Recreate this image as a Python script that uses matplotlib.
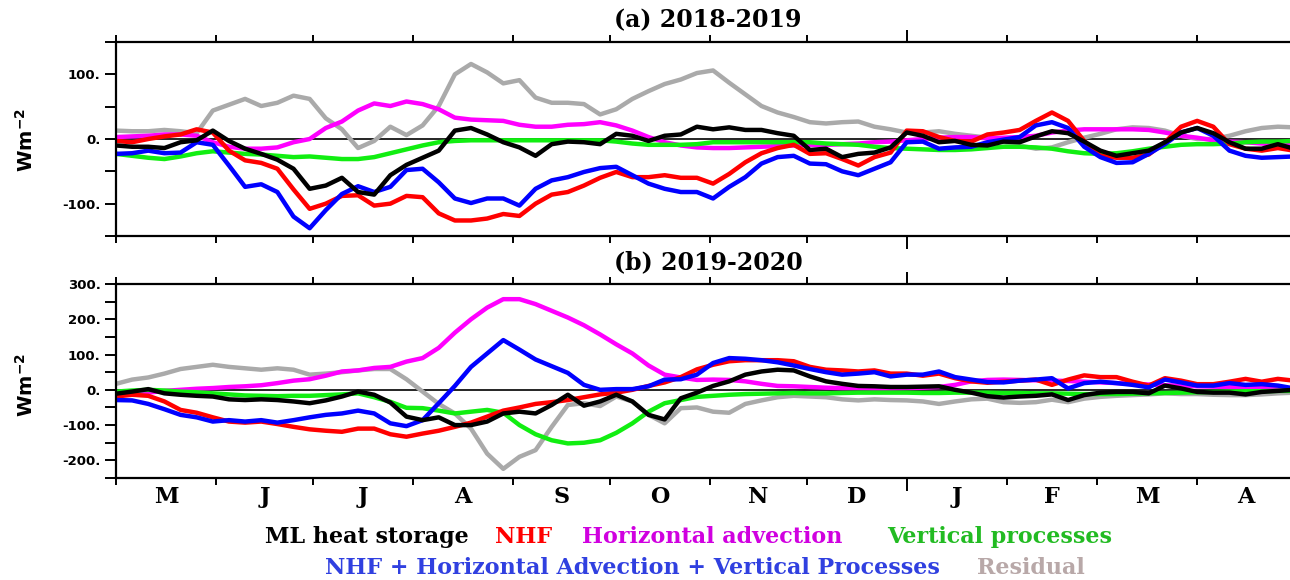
import numpy as np
import matplotlib
matplotlib.use('Agg')
import matplotlib.pyplot as plt
from matplotlib.ticker import FixedLocator, FuncFormatter, MultipleLocator

# day of year counted from 1 May, sampled every 5 days
days = np.arange(0, 366, 5)

# ── (a) 2018-2019, W m-2 ───────────────────────────────────
storage_a = [-10,-12,-12,-14,-5,-2,13,-3,-15,-23,-32,-46,-77,-72,-60,-82,-86,-56,-40,
             -29,-18,13,17,7,-5,-13,-26,-8,-4,-5,-8,8,5,-3,5,7,19,
             15,18,14,14,9,5,-17,-15,-28,-23,-21,-13,10,5,-5,-3,-9,-10,
             -4,-5,4,12,9,-4,-18,-26,-22,-18,-5,10,17,9,-5,-15,-15,-8,-15]
nhf_a = [-3,-5,0,4,7,15,10,-18,-33,-37,-46,-78,-108,-100,-88,-87,-103,-100,-88,
         -90,-115,-126,-126,-123,-116,-119,-100,-86,-82,-72,-60,-51,-59,-59,-56,-60,-60,
         -69,-54,-36,-22,-14,-9,-23,-22,-31,-41,-28,-21,13,12,3,-3,-4,7,
         10,14,28,41,28,-3,-26,-29,-29,-24,-5,19,28,19,-8,-15,-18,-14,-18]
hadv_a = [3,4,5,7,7,5,-5,-12,-15,-15,-13,-5,0,17,27,44,55,51,58,
          54,46,33,30,29,28,22,19,19,22,23,26,21,13,3,-5,-10,-13,
          -14,-14,-13,-12,-11,-10,-9,-9,-8,-7,-5,-4,-2,0,2,3,3,1,
          2,3,5,10,13,15,15,15,15,14,10,5,2,-2,-4,-5,-7,-8,-8]
vert_a = [-23,-26,-29,-31,-27,-22,-19,-21,-23,-24,-26,-28,-27,-29,-31,-31,-28,-22,-16,
          -10,-5,-3,-2,-2,-2,-2,-2,-2,-2,-2,-2,-4,-7,-9,-9,-9,-8,
          -5,-5,-5,-5,-5,-5,-5,-7,-8,-9,-12,-14,-15,-16,-17,-17,-16,-14,
          -12,-12,-13,-15,-19,-22,-23,-22,-19,-15,-12,-9,-8,-8,-7,-5,-4,-4,-3]
total_a = [-23,-22,-18,-22,-21,-5,-9,-41,-74,-70,-82,-120,-138,-110,-85,-73,-82,-74,-48,
           -46,-67,-92,-99,-92,-92,-103,-77,-64,-59,-51,-45,-43,-56,-69,-77,-82,-82,
           -92,-74,-59,-38,-28,-26,-38,-39,-50,-56,-46,-36,-5,-4,-15,-13,-12,-5,
           -1,3,21,26,17,-12,-28,-37,-36,-23,-8,10,17,5,-18,-26,-29,-28,-27]
resid_a = [13,12,12,14,12,9,44,53,62,51,56,67,62,32,15,-14,-3,19,6,
           21,51,100,116,103,86,91,64,56,56,54,38,46,62,74,85,92,102,
           106,87,69,51,41,34,26,24,26,27,19,15,10,10,12,8,5,2,
           -5,-10,-15,-13,-5,2,8,15,18,17,13,5,0,0,5,12,17,19,18]

# ── (b) 2019-2020, W m-2 ───────────────────────────────────
storage_b = [-11,-5,2,-10,-14,-17,-19,-27,-29,-27,-29,-33,-38,-30,-19,-5,-14,-36,-76,
             -86,-78,-100,-100,-90,-67,-62,-67,-43,-14,-45,-33,-14,-33,-71,-84,-24,-8,
             11,24,43,52,57,55,38,24,17,11,10,8,8,9,10,0,-8,-18,
             -22,-19,-17,-13,-29,-15,-8,-6,-6,-10,12,4,-6,-8,-8,-13,-6,-3,0]
nhf_b = [-19,-14,-17,-33,-57,-65,-78,-90,-93,-90,-97,-105,-112,-116,-119,-110,-110,-126,-133,
         -124,-116,-105,-93,-76,-59,-50,-40,-35,-29,-21,-13,-8,0,11,21,36,58,
         71,81,84,84,84,81,65,57,55,52,55,46,46,40,46,33,24,20,
         23,26,29,14,29,41,36,36,23,12,33,26,16,16,23,31,23,31,26]
hadv_b = [-14,-14,-8,-3,0,3,5,8,10,13,19,26,30,40,52,55,62,65,80,
          90,119,162,200,233,257,257,243,224,205,183,157,129,103,69,43,35,28,
          29,28,24,17,11,10,8,6,5,5,4,4,5,6,8,14,24,28,
          29,28,27,26,25,23,21,19,17,15,13,12,10,9,8,7,6,5,4]
vert_b = [-5,-2,0,-2,-5,-7,-10,-13,-16,-17,-18,-17,-17,-15,-13,-10,-21,-34,-51,
          -52,-59,-67,-62,-57,-65,-100,-126,-143,-152,-150,-143,-122,-95,-62,-38,-29,-20,
          -17,-14,-12,-11,-10,-9,-10,-10,-9,-8,-8,-8,-8,-9,-9,-8,-8,-8,
          -9,-9,-10,-10,-11,-12,-12,-12,-11,-10,-9,-8,-7,-6,-5,-4,-4,-3,-3]
total_b = [-29,-30,-40,-55,-71,-78,-90,-86,-90,-86,-93,-86,-78,-71,-67,-59,-67,-95,-103,
           -86,-38,11,65,103,141,114,86,67,48,14,0,2,2,10,29,30,43,
           76,90,88,84,78,69,59,50,43,46,50,38,43,43,52,36,29,22,
           21,26,29,33,4,19,23,19,14,7,29,21,12,12,19,14,16,12,4]
resid_b = [17,29,35,46,59,65,71,65,61,57,61,57,43,46,50,55,59,59,30,
           -5,-40,-67,-110,-181,-224,-190,-171,-105,-43,-38,-46,-19,-33,-71,-95,-52,-50,
           -62,-65,-40,-30,-21,-17,-19,-21,-27,-30,-27,-29,-30,-33,-40,-33,-27,-25,
           -35,-37,-35,-28,-35,-25,-20,-17,-15,-13,-10,-12,-12,-14,-15,-15,-13,-10,-8]

month_starts = [0, 31, 61, 92, 123, 153, 184, 214, 245, 276, 304, 335, 365]
month_labels = ['M', 'J', 'J', 'A', 'S', 'O', 'N', 'D', 'J', 'F', 'M', 'A']
year_break = 245

C_GRAY, C_MAG, C_GRN = '#AAAAAA', '#FF00FF', '#11EE11'
C_RED, C_BLU, C_BLK = '#FF0000', '#0000FF', '#000000'

W, H = 1290, 580
fig = plt.figure(figsize=(W / 100, H / 100), dpi=100)
fig.patch.set_facecolor('white')

def panel(rect, series, ylim, yticks, title, title_y):
    ax = fig.add_axes(rect)
    ax.axhline(0, color='black', lw=1.2, zorder=1)
    for vals, col in zip(series, [C_GRAY, C_MAG, C_GRN, C_RED, C_BLU, C_BLK]):
        ax.plot(days, vals, color=col, lw=3.2, solid_joinstyle='round', zorder=2)
    ax.set_xlim(0, 365)
    ax.set_ylim(*ylim)
    ax.yaxis.set_major_locator(FixedLocator(yticks))
    ax.yaxis.set_minor_locator(MultipleLocator(50))
    ax.yaxis.set_major_formatter(FuncFormatter(lambda v, p: f'{int(v)}.'))
    ax.xaxis.set_major_locator(FixedLocator([m for m in month_starts if m != year_break]))
    ax.xaxis.set_minor_locator(FixedLocator([year_break]))
    ax.set_xticklabels([])
    ax.tick_params(axis='x', which='major', top=True, bottom=True, direction='out',
                   length=5, width=1.4)
    ax.tick_params(axis='x', which='minor', top=True, bottom=True, direction='out',
                   length=9, width=1.4)
    ax.tick_params(axis='y', which='both', direction='out', length=8, width=1.4, pad=3)
    for lab in ax.get_yticklabels():
        lab.set_fontfamily('DejaVu Sans')
        lab.set_fontweight('bold')
        lab.set_fontsize(9.5)
    for s in ['left', 'top', 'bottom']:
        ax.spines[s].set_linewidth(1.6)
    ax.spines['right'].set_visible(False)
    fig.text(708 / W, title_y, title, ha='center', va='center',
             fontsize=17, fontweight='bold', family='DejaVu Serif')
    return ax

ax_a = panel([116 / W, 1 - 236 / H, (1294 - 116) / W, (236 - 42) / H],
             [resid_a, hadv_a, vert_a, nhf_a, total_a, storage_a],
             (-150, 150), [-100, 0, 100], '(a) 2018-2019', 1 - 20 / H)
ax_b = panel([116 / W, 1 - 478 / H, (1294 - 116) / W, (478 - 284) / H],
             [resid_b, hadv_b, vert_b, nhf_b, total_b, storage_b],
             (-250, 300), [-200, -100, 0, 100, 200, 300], '(b) 2019-2020', 1 - 262 / H)

for ax, yc in [(ax_a, 140), (ax_b, 385)]:
    fig.text(26 / W, 1 - yc / H, r'$\mathbf{Wm^{-2}}$', rotation=90, ha='center',
             va='center', fontsize=14)

mids = [(a + b) / 2 for a, b in zip(month_starts[:-1], month_starts[1:])]
for m, lab in zip(mids, month_labels):
    ax_b.text(m, -0.04, lab, transform=ax_b.get_xaxis_transform(), ha='center',
              va='top', fontsize=16, fontweight='bold', family='DejaVu Serif')

# legend drawn as coloured words
legend_rows = [
    (537, [(265, 'ML heat storage', '#000000'), (495, 'NHF', '#FF0000'),
           (582, 'Horizontal advection', '#D000E0'), (887, 'Vertical processes', '#22BB22')]),
    (568, [(325, 'NHF + Horizontal Advection + Vertical Processes', '#3040E0'),
           (977, 'Residual', '#B8A8A8')]),
]
for yc, items in legend_rows:
    for x0, txt, col in items:
        fig.text(x0 / W, 1 - yc / H, txt, color=col, ha='left', va='center',
                 fontsize=16, fontweight='bold', family='DejaVu Serif')

fig.savefig('out.png', dpi=100, facecolor='white')
